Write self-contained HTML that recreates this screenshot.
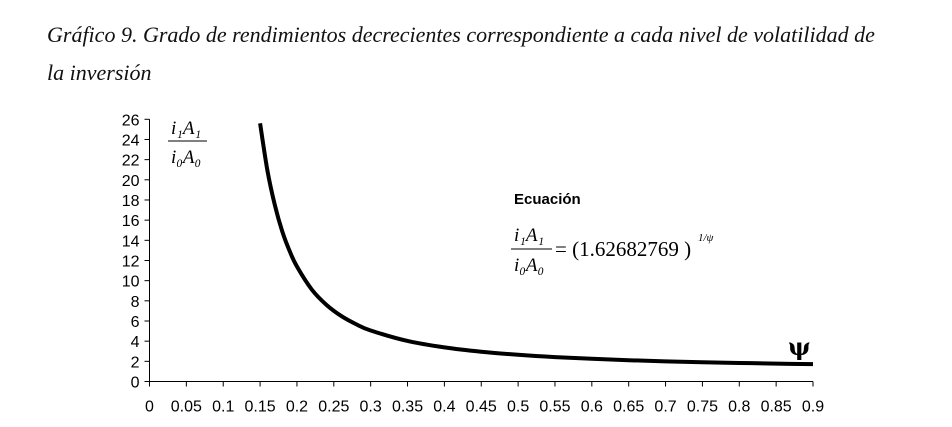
<!DOCTYPE html>
<html><head><meta charset="utf-8"><style>
html,body{margin:0;padding:0;background:#fff;width:952px;height:427px;overflow:hidden}
.t{position:absolute;left:47px;font-family:"Liberation Serif",serif;font-style:italic;font-size:22px;color:#111;white-space:nowrap}
svg{position:absolute;left:0;top:0}
</style></head><body>
<div class="t" style="top:22px">Gráfico 9. Grado de rendimientos decrecientes correspondiente a cada nivel de volatilidad de</div>
<div class="t" style="top:60px">la inversión</div>
<svg id="c" width="952" height="427"></svg>
<script>
const xTicks=[0,0.05,0.1,0.15,0.2,0.25,0.3,0.35,0.4,0.45,0.5,0.55,0.6,0.65,0.7,0.75,0.8,0.85,0.9];
const xTickLabels=["0","0.05","0.1","0.15","0.2","0.25","0.3","0.35","0.4","0.45","0.5","0.55","0.6","0.65","0.7","0.75","0.8","0.85","0.9"];
const yTicks=[0,2,4,6,8,10,12,14,16,18,20,22,24,26];
const psiValues=[0.15,0.16,0.17,0.18,0.19,0.2,0.22,0.24,0.26,0.28,0.3,0.35,0.4,0.45,0.5,0.55,0.6,0.65,0.7,0.75,0.8,0.85,0.9];
const ratioValues=[25.6,20.9,17.5,14.9,12.95,11.4,9.13,7.6,6.5,5.69,5.06,4.02,3.38,2.95,2.65,2.42,2.25,2.11,2.0,1.91,1.84,1.77,1.72];
const NS="http://www.w3.org/2000/svg";
const svg=document.getElementById('c');
const X0=149.5,X1=813,Y0=381.5,Y1=119.3;
const sx=v=>X0+(v-0)/(0.9)*(X1-X0);
const sy=v=>Y0-(v/26)*(Y0-Y1);
function mk(tag,attrs){const e=document.createElementNS(NS,tag);for(const k in attrs)e.setAttribute(k,attrs[k]);svg.appendChild(e);return e;}
let e=mk('line',{x1:X0,y1:Y0,x2:X1,y2:Y0,stroke:'#000','stroke-width':1});


e=mk('line',{x1:X0,y1:Y0,x2:X0,y2:Y1,stroke:'#000','stroke-width':1});


xTicks.forEach((v,i)=>{
 const x=sx(v);
 let t=mk('line',{x1:x,y1:Y0,x2:x,y2:Y0+5,stroke:'#000'});
 
 
 let l=mk('text',{x:x,y:Y0+30,'text-anchor':'middle','font-family':'Liberation Sans, sans-serif','font-size':16,fill:'#000'});
 l.textContent=xTickLabels[i];
 
 
});
yTicks.forEach(v=>{
 const y=sy(v);
 let t=mk('line',{x1:X0-5,y1:y,x2:X0,y2:y,stroke:'#000'});
 
 
 let l=mk('text',{x:X0-10,y:y+6,'text-anchor':'end','font-family':'Liberation Sans, sans-serif','font-size':16,fill:'#000'});
 l.textContent=String(v);
 
 
});
const pts=psiValues.map((v,i)=>[sx(v),sy(ratioValues[i])]);
let d='M'+pts[0][0]+','+pts[0][1];
for(let i=0;i<pts.length-1;i++){
 const p0=pts[Math.max(0,i-1)],p1=pts[i],p2=pts[i+1],p3=pts[Math.min(pts.length-1,i+2)];
 const c1=[p1[0]+(p2[0]-p0[0])/6,p1[1]+(p2[1]-p0[1])/6];
 const c2=[p2[0]-(p3[0]-p1[0])/6,p2[1]-(p3[1]-p1[1])/6];
 d+=` C${c1[0]},${c1[1]} ${c2[0]},${c2[1]} ${p2[0]},${p2[1]}`;
}
e=mk('path',{d:d,fill:'none',stroke:'#000','stroke-width':4});


function txt(x,y,s,attrs,name){const t=mk('text',Object.assign({x:x,y:y},attrs));t.textContent=s;return t;}
const serif={'font-family':'Liberation Serif, serif','font-size':19,'font-style':'italic',fill:'#000'};
txt(171,134,'i₁A₁',serif,'y-axis-label-numerator');
mk('line',{x1:168,y1:141,x2:207,y2:141,stroke:'#000'});
txt(171,163,'i₀A₀',serif,'y-axis-label-denominator');
txt(514,204,'Ecuación',{'font-family':'Liberation Sans, sans-serif','font-size':15,'font-weight':'bold',fill:'#000'},'equation-title');
txt(514,241,'i₁A₁',serif,'equation-numerator');
mk('line',{x1:511,y1:249,x2:552,y2:249,stroke:'#000'});
txt(514,271,'i₀A₀',serif,'equation-denominator');
txt(555,256,'= (1.62682769   )',{'font-family':'Liberation Serif, serif','font-size':21,fill:'#000'},'equation-body');
txt(698,241,'1/ψ',{'font-family':'Liberation Serif, serif','font-size':11,'font-style':'italic',fill:'#000'},'equation-exponent');
txt(788,355,'ψ',{'font-family':'DejaVu Serif, serif','font-size':24,'font-weight':'bold',fill:'#000'},'x-axis-label-psi');
</script>
</body></html>
